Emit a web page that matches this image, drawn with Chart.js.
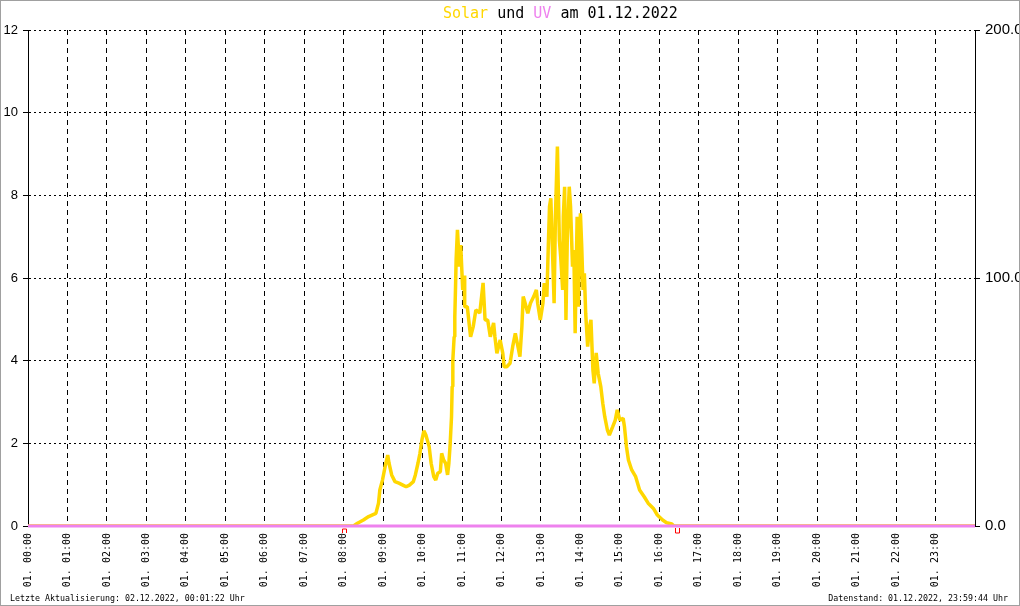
<!DOCTYPE html>
<html>
<head>
<meta charset="utf-8">
<title>Solar und UV am 01.12.2022</title>
<script src="https://cdn.jsdelivr.net/npm/chart.js@4"></script>
<style>
  html, body { margin: 0; padding: 0; background: #fff; }
  #frame { width: 1020px; height: 606px; box-sizing: border-box; border: 1px solid #a0a0a0; overflow: hidden; }
  canvas { display: block; }
</style>
</head>
<body>
<div id="frame"><canvas id="chart" width="1018" height="604"></canvas></div>
<script>
// Solar radiation (W/m², right axis)
const solarTimes = [
  '00:00', '08:15', '08:21', '08:30', '08:38', '08:49', '08:53', '08:55', '08:59', '09:03',
  '09:07', '09:09', '09:13', '09:18', '09:24', '09:30', '09:35', '09:40', '09:46', '09:49',
  '09:53', '09:56', '09:59', '10:02', '10:05', '10:10', '10:13', '10:17', '10:20', '10:23',
  '10:27', '10:29', '10:32', '10:35', '10:38', '10:40', '10:42', '10:44', '10:45', '10:46',
  '10:48', '10:49', '10:50', '10:51', '10:53', '10:56', '10:58', '11:01', '11:03', '11:04',
  '11:08', '11:13', '11:17', '11:21', '11:27', '11:32', '11:35', '11:39', '11:43', '11:48',
  '11:50', '11:53', '11:58', '12:02', '12:04', '12:08', '12:13', '12:17', '12:21', '12:24',
  '12:28', '12:31', '12:33', '12:36', '12:40', '12:44', '12:49', '12:53', '12:55', '12:59',
  '13:03', '13:05', '13:09', '13:11', '13:13', '13:15', '13:17', '13:20', '13:22', '13:25',
  '13:28', '13:30', '13:33', '13:34', '13:36', '13:38', '13:40', '13:43', '13:45', '13:48',
  '13:50', '13:52', '13:55', '13:57', '14:00', '14:02', '14:04', '14:06', '14:08', '14:11',
  '14:14', '14:16', '14:19', '14:21', '14:24', '14:27', '14:31', '14:34', '14:37', '14:41',
  '14:44', '14:49', '14:53', '14:56', '15:00', '15:05', '15:07', '15:10', '15:13', '15:18',
  '15:24', '15:30', '15:37', '15:43', '15:51', '15:57', '16:05', '16:11', '16:19', '16:22',
  '24:00'
];
const solarValues = [
  0, 0, 1.1, 2.4, 3.8, 5.1, 9.2, 14.5, 18.5, 23.9,
  28.6, 25.3, 20.6, 17.9, 17.3, 16.5, 15.8, 16.5, 17.9, 20.6,
  25.3, 29.3, 34.7, 38.4, 36.7, 32.0, 25.3, 19.9, 18.5, 21.3,
  21.9, 29.3, 26.6, 25.3, 20.6, 25.3, 33.3, 44.1, 56.2, 66.9,
  76.3, 84.4, 95.2, 107.3, 119.4, 104.6, 113.3, 95.2, 101.0, 88.4,
  88.4, 76.3, 80.4, 87.1, 85.9, 98.0, 83.1, 83.1, 76.3, 81.9,
  76.3, 69.6, 75.0, 69.6, 64.2, 64.2, 65.6, 72.3, 77.7, 73.7,
  68.3, 80.4, 92.5, 89.8, 85.8, 89.8, 92.5, 95.2, 89.8, 83.1,
  89.8, 97.9, 92.5, 111.3, 128.8, 132.1, 115.3, 89.8, 124.7, 153.0,
  115.3, 108.6, 95.2, 124.7, 136.8, 83.1, 115.3, 136.8, 128.8, 104.6,
  111.3, 77.7, 124.7, 88.4, 126.1, 112.6, 95.2, 101.9, 85.8, 72.3,
  80.4, 83.1, 62.9, 57.5, 69.8, 61.6, 56.2, 49.5, 44.1, 38.7,
  36.7, 40.0, 42.7, 46.8, 42.7, 43.4, 40.0, 32.0, 26.6, 22.6,
  19.9, 14.5, 11.8, 9.2, 7.1, 4.4, 2.4, 1.3, 0.8, 0,
  0
];

// UV index (left axis)
const uvTimes = ['00:00', '24:00'];
const uvValues = [0, 0];

// sunrise / sunset markers below the axis
const sunriseTimes = ['08:01'];
const sunsetTimes = ['16:27'];

const leftTicks = [0, 2, 4, 6, 8, 10, 12];
const rightTicks = [0, 100, 200];
const dayLabel = '01.';

const titleParts = [
  { text: 'Solar', color: '#FFD700' },
  { text: ' und ', color: '#000000' },
  { text: 'UV', color: '#EE82EE' },
  { text: ' am 01.12.2022', color: '#000000' }
];
const footerLeft = 'Letzte Aktualisierung: 02.12.2022, 00:01:22 Uhr';
const footerRight = 'Datenstand: 01.12.2022, 23:59:44 Uhr';

const SOLAR_COLOR = '#FFD700';
const UV_COLOR = '#EE82EE';
const MONO = '"DejaVu Sans Mono", "Liberation Mono", monospace';
const SANS = '"Liberation Sans", Arial, sans-serif';

function toHours(t) {
  const [h, m] = t.split(':').map(Number);
  return h + m / 60;
}

function toPoints(times, values) {
  return times.map((t, i) => ({ x: toHours(t), y: values[i] }));
}

function pad(n) {
  return String(n).padStart(2, '0');
}

// Title with coloured words, footer lines and sun markers
const decorations = {
  id: 'decorations',
  afterDraw(chart) {
    const ctx = chart.ctx;
    const xs = chart.scales.x;
    const bottom = chart.chartArea.bottom;
    ctx.save();

    ctx.font = '15px ' + MONO;
    ctx.textBaseline = 'alphabetic';
    ctx.textAlign = 'left';
    let x = 442;
    titleParts.forEach(part => {
      ctx.fillStyle = part.color;
      ctx.fillText(part.text, x, 17);
      x += ctx.measureText(part.text).width;
    });

    ctx.font = '8.3px ' + MONO;
    ctx.fillStyle = '#000';
    ctx.fillText(footerLeft, 9, 600);
    ctx.textAlign = 'right';
    ctx.fillText(footerRight, 1007, 600);

    ctx.strokeStyle = '#ff0000';
    ctx.lineWidth = 1;
    sunriseTimes.forEach(t => {
      const px = Math.round(xs.getPixelForValue(toHours(t))) + 0.5;
      ctx.beginPath();
      ctx.moveTo(px - 2, bottom + 7);
      ctx.lineTo(px - 2, bottom + 3);
      ctx.lineTo(px + 2, bottom + 3);
      ctx.lineTo(px + 2, bottom + 7);
      ctx.stroke();
    });
    sunsetTimes.forEach(t => {
      const px = Math.round(xs.getPixelForValue(toHours(t))) + 0.5;
      ctx.beginPath();
      ctx.moveTo(px - 2, bottom + 2);
      ctx.lineTo(px - 2, bottom + 7);
      ctx.lineTo(px + 2, bottom + 7);
      ctx.lineTo(px + 2, bottom + 2);
      ctx.stroke();
    });

    ctx.restore();
  }
};

const ctx = document.getElementById('chart');

new Chart(ctx, {
  type: 'line',
  data: {
    datasets: [
      {
        label: 'Solar',
        data: toPoints(solarTimes, solarValues),
        yAxisID: 'y1',
        order: 2,
        borderColor: SOLAR_COLOR,
        borderWidth: 3.5,
        borderJoinStyle: 'bevel',
        pointRadius: 0,
        tension: 0,
        fill: false
      },
      {
        label: 'UV',
        data: toPoints(uvTimes, uvValues),
        yAxisID: 'y',
        order: 1,
        borderColor: UV_COLOR,
        borderWidth: 3,
        pointRadius: 0,
        tension: 0,
        fill: false,
        clip: 3
      }
    ]
  },
  options: {
    responsive: false,
    animation: false,
    devicePixelRatio: 1,
    layout: { padding: { top: 29, left: 0, right: 0, bottom: 0 } },
    plugins: {
      legend: { display: false },
      tooltip: { enabled: false },
      title: { display: false }
    },
    scales: {
      x: {
        type: 'linear',
        min: 0,
        max: 24,
        afterFit: scale => { scale.height = 79; },
        ticks: {
          stepSize: 1,
          autoSkip: false,
          maxRotation: 90,
          minRotation: 90,
          padding: 7,
          color: '#000',
          font: { family: MONO, size: 10 },
          callback: value => value >= 24 ? null : dayLabel + ' ' + pad(value) + ':00'
        },
        grid: {
          color: '#000',
          lineWidth: 1,
          drawTicks: false
        },
        border: { display: true, color: '#000', width: 1, dash: [5, 4] }
      },
      y: {
        position: 'left',
        min: 0,
        max: 12,
        afterFit: scale => { scale.width = 27; },
        afterBuildTicks: scale => { scale.ticks = leftTicks.map(v => ({ value: v })); },
        ticks: {
          padding: 5,
          color: '#000',
          font: { family: SANS, size: 13 }
        },
        grid: {
          color: '#000',
          lineWidth: 1,
          tickLength: 5,
          tickBorderDash: [],
          tickColor: '#000'
        },
        border: { display: true, color: '#000', width: 1, dash: [2, 3] }
      },
      y1: {
        position: 'right',
        min: 0,
        max: 200,
        afterFit: scale => { scale.width = 44; },
        afterBuildTicks: scale => { scale.ticks = rightTicks.map(v => ({ value: v })); },
        ticks: {
          padding: 5,
          color: '#000',
          font: { family: SANS, size: 15 },
          callback: value => value.toFixed(1)
        },
        grid: {
          drawOnChartArea: false,
          color: '#000',
          tickLength: 5,
          tickBorderDash: [],
          tickColor: '#000'
        },
        border: { display: true, color: '#000', width: 1 }
      }
    }
  },
  plugins: [decorations]
});
</script>
</body>
</html>
